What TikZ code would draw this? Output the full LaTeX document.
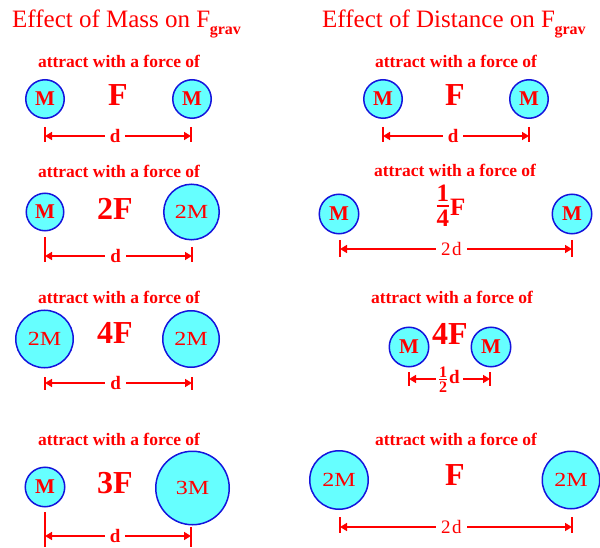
\documentclass[tikz,border=0pt]{standalone}
\usepackage{fontspec}
\setmainfont{Liberation Serif}
\usetikzlibrary{arrows.meta}
\definecolor{massblue}{RGB}{20,20,220}
\definecolor{masscyan}{RGB}{102,255,255}
\definecolor{txtred}{RGB}{255,0,0}
\newcommand\widetxt[1]{\scalebox{1.2}[1]{#1}}
\newcommand\gravsub{\kern-0.5pt\raisebox{-7pt}{\fontsize{16}{16}\selectfont\bfseries grav}}
\begin{document}
\begin{tikzpicture}[x=1pt,y=-1pt,
  title/.style={anchor=base west, inner sep=0pt, text=txtred, font=\fontsize{25}{25}\selectfont},
  mass/.style={circle, draw=massblue, fill=masscyan, line width=1.5pt, inner sep=0pt, text=txtred, font=\fontsize{21}{21}\selectfont\bfseries},
  heavy/.style={mass, font=\fontsize{20}{20}\selectfont},
  attr/.style={anchor=base, inner sep=0pt, text=txtred, font=\fontsize{17.5}{17.5}\selectfont\bfseries},
  force/.style={anchor=base, inner sep=0pt, text=txtred, font=\fontsize{32}{32}\selectfont\bfseries},
  tick/.style={draw=txtred, line width=1.6pt},
  dim/.style={draw=txtred, line width=1.6pt, {Triangle[length=7pt,width=8pt]}-{Triangle[length=7pt,width=8pt]}},
  dlab/.style={fill=white, text=txtred, inner xsep=5pt, inner ysep=0pt, font=\fontsize{19}{19}\selectfont\bfseries},
  dlabw/.style={dlab, font=\fontsize{19}{19}\selectfont}
]
\useasboundingbox (0,0) rectangle (600,548);

% titles
\node[title] (t1) at (12,28) {Effect of Mass on F\gravsub};
\node[title] (t2) at (322,28) {Effect of Distance on F\gravsub};

% ---------- Row 1 left
\node[attr] (a1l) at (119,68) {attract with a force of};
\node[mass, minimum size=38.5pt] (m1la) at (45,99) {M};
\node[mass, minimum size=38.5pt] (m1lb) at (192,99) {M};
\node[force] (f1l) at (118,106) {F};
\coordinate (d1la) at (45,136);
\coordinate (d1lb) at (191,136);
\draw[tick] ([yshift=9pt]d1la) -- ([yshift=-6pt]d1la);
\draw[tick] ([yshift=9pt]d1lb) -- ([yshift=-6pt]d1lb);
\draw[dim] (d1la) -- node[dlab, pos=0.48] (l1l) {d} (d1lb);

% ---------- Row 1 right
\node[attr] (a1r) at (456,68) {attract with a force of};
\node[mass, minimum size=38.5pt] (m1ra) at (383,99) {M};
\node[mass, minimum size=38.5pt] (m1rb) at (529,99) {M};
\node[force] (f1r) at (455,106) {F};
\coordinate (d1ra) at (383,136);
\coordinate (d1rb) at (529,136);
\draw[tick] ([yshift=9pt]d1ra) -- ([yshift=-6pt]d1ra);
\draw[tick] ([yshift=9pt]d1rb) -- ([yshift=-6pt]d1rb);
\draw[dim] (d1ra) -- node[dlab, pos=0.48] (l1r) {d} (d1rb);

% ---------- Row 2 left
\node[attr] (a2l) at (119,178) {attract with a force of};
\node[mass, minimum size=37.5pt] (m2la) at (45,212) {M};
\node[heavy, minimum size=55.5pt] (m2lb) at (191.5,212) {\widetxt{2M}};
\node[force] (f2l) at (115,220) {2F};
\coordinate (d2la) at (45,256);
\coordinate (d2lb) at (192,256);
\draw[tick] ([yshift=19pt]d2la) -- ([yshift=-6pt]d2la);
\draw[tick] ([yshift=9pt]d2lb) -- ([yshift=-6pt]d2lb);
\draw[dim] (d2la) -- node[dlab, pos=0.48] (l2l) {d} (d2lb);

% ---------- Row 2 right
\node[attr] (a2r) at (455,177) {attract with a force of};
\node[mass, minimum size=39.5pt] (m2ra) at (339,214) {M};
\node[mass, minimum size=39.5pt] (m2rb) at (572,214) {M};
\node[inner sep=0pt, text=txtred] (f2r) at (451,209) {{\fontsize{25}{21}\selectfont\bfseries\setlength\arrayrulewidth{1.8pt}\begin{tabular}{@{}c@{}}1\\[-3pt]\hline\rule{0pt}{20pt}4\end{tabular}}\kern1pt{\fontsize{25}{25}\selectfont\bfseries F}};
\coordinate (d2ra) at (340,249);
\coordinate (d2rb) at (572,249);
\draw[tick] ([yshift=9pt]d2ra) -- ([yshift=-8pt]d2ra);
\draw[tick] ([yshift=9pt]d2rb) -- ([yshift=-8pt]d2rb);
\draw[dim] (d2ra) -- node[dlabw, pos=0.48] (l2r) {2\kern1.5pt d} (d2rb);

% ---------- Row 3 left
\node[attr] (a3l) at (119,303) {attract with a force of};
\node[heavy, minimum size=57.5pt] (m3la) at (44.5,339) {\widetxt{2M}};
\node[heavy, minimum size=56.5pt] (m3lb) at (191,339) {\widetxt{2M}};
\node[force] (f3l) at (115,343) {4F};
\coordinate (d3la) at (45,383);
\coordinate (d3lb) at (192,383);
\draw[tick] ([yshift=6pt]d3la) -- ([yshift=-7pt]d3la);
\draw[tick] ([yshift=6pt]d3lb) -- ([yshift=-7pt]d3lb);
\draw[dim] (d3la) -- node[dlab, pos=0.48] (l3l) {d} (d3lb);

% ---------- Row 3 right
\node[attr] (a3r) at (452,304) {attract with a force of};
\node[mass, minimum size=39.5pt] (m3ra) at (409,347) {M};
\node[mass, minimum size=39.5pt] (m3rb) at (491,347) {M};
\node[force] (f3r) at (450,344) {4F};
\coordinate (d3ra) at (409,379);
\coordinate (d3rb) at (490,379);
\draw[tick] ([yshift=7pt]d3ra) -- ([yshift=-7pt]d3ra);
\draw[tick] ([yshift=7pt]d3rb) -- ([yshift=-7pt]d3rb);
\draw[dim] (d3ra) -- node[dlab, inner xsep=3pt, pos=0.5, yshift=-3pt] (l3r) {{\fontsize{16}{13}\selectfont\bfseries\setlength\arrayrulewidth{1.3pt}\begin{tabular}{@{}c@{}}1\\[-3pt]\hline\rule{0pt}{13pt}2\end{tabular}}\kern2pt\raisebox{3pt}{d}} (d3rb);

% ---------- Row 4 left
\node[attr] (a4l) at (119,445) {attract with a force of};
\node[mass, minimum size=39.5pt] (m4la) at (45,487) {M};
\node[heavy, minimum size=73.5pt] (m4lb) at (192.5,488) {\widetxt{3M}};
\node[force] (f4l) at (115,493) {3F};
\coordinate (d4la) at (45,536);
\coordinate (d4lb) at (191,536);
\draw[tick] ([yshift=24pt]d4la) -- ([yshift=-11pt]d4la);
\draw[tick] ([yshift=9pt]d4lb) -- ([yshift=-11pt]d4lb);
\draw[dim] (d4la) -- node[dlab, pos=0.48] (l4l) {d} (d4lb);

% ---------- Row 4 right
\node[attr] (a4r) at (456,445) {attract with a force of};
\node[heavy, minimum size=58.5pt] (m4ra) at (339,480) {\widetxt{2M}};
\node[heavy, minimum size=57.5pt] (m4rb) at (571,480) {\widetxt{2M}};
\node[force] (f4r) at (455,485) {F};
\coordinate (d4ra) at (340,527);
\coordinate (d4rb) at (572,527);
\draw[tick] ([yshift=10pt]d4ra) -- ([yshift=-6pt]d4ra);
\draw[tick] ([yshift=10pt]d4rb) -- ([yshift=-6pt]d4rb);
\draw[dim] (d4ra) -- node[dlabw, pos=0.48] (l4r) {2\kern1.5pt d} (d4rb);
\end{tikzpicture}
\end{document}
